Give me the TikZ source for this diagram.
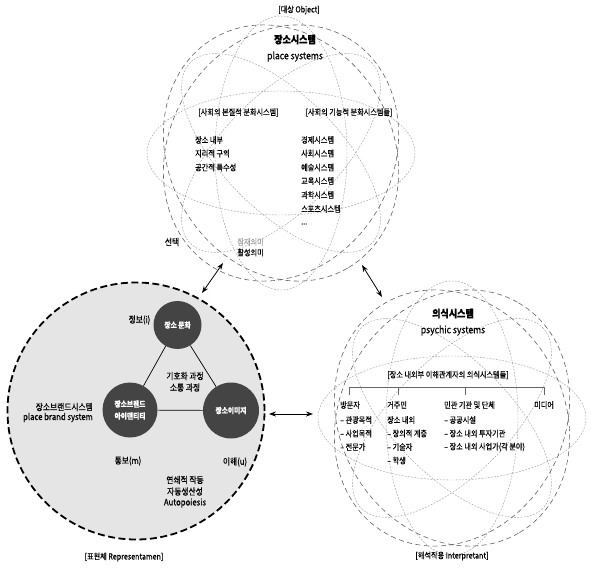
\documentclass[tikz,border=0pt]{standalone}
\usepackage{fontspec}
\setmainfont{Noto Sans CJK KR}[FakeStretch=0.86, FakeBold=0.5]
\usetikzlibrary{arrows.meta}
\definecolor{darkc}{RGB}{68,68,68}
\definecolor{semigray}{RGB}{165,165,165}
\newcommand{\atomsys}[2]{%
 \begin{scope}[shift={(#1,#2)}]
  \draw[lightell] (0,0) ellipse [x radius=134, y radius=62];
  \draw[lightell] (0,0) ellipse [x radius=66, y radius=137];
  \draw[lightell, rotate=45] (0,0) ellipse [x radius=128, y radius=58];
  \draw[lightell, rotate=-45] (0,0) ellipse [x radius=128, y radius=58];
  \draw[darkell, rotate=60] (0,0) ellipse [x radius=133, y radius=112];
  \draw[darkell, rotate=-60] (0,0) ellipse [x radius=133, y radius=112];
 \end{scope}}
\tikzset{
  lightell/.style={draw=black!38, dash pattern=on 1.8pt off 1.4pt, line width=0.45pt},
  darkell/.style={draw=black!62, dash pattern=on 5pt off 3.5pt, line width=0.6pt},
  lbl/.style={inner sep=0pt, font=\fontsize{8.3}{10}\selectfont},
  biglbl/.style={inner sep=0pt, font=\fontsize{9}{11}\selectfont},
  ttl/.style={inner sep=0pt, font=\bfseries\fontsize{10.5}{12}\selectfont},
  sttl/.style={inner sep=0pt, font=\fontsize{10}{12}\selectfont},
  repc/.style={circle, minimum size=257pt, fill=gray!20, draw=black, line width=1.8pt, dash pattern=on 7pt off 3.5pt, inner sep=0pt},
  dcirc/.style={circle, fill=darkc, text=white, inner sep=0pt, align=center, font=\bfseries\fontsize{7.8}{12}\selectfont},
  conn/.style={draw=black, line width=0.7pt},
  dbl/.style={{Stealth[length=7pt,width=5pt]}-{Stealth[length=7pt,width=5pt]}, line width=0.8pt, draw=black},
  brk/.style={draw=black!60, line width=0.5pt}
}
\begin{document}
\begin{tikzpicture}[x=1pt,y=-1pt]
\useasboundingbox (0,0) rectangle (591,569);
% systems
\atomsys{281}{153}
\atomsys{452}{418}
% representamen
\node[repc] (rep) at (136,411) {};
\node[dcirc, minimum size=48pt] (cul) at (177.5,325) {장소 문화};
\node[dcirc, minimum size=55pt] (bid) at (130,410) {장소브랜드\\아이덴티티};
\node[dcirc, minimum size=56pt] (img) at (231,410.5) {장소이미지};
\draw[conn] (cul) -- (bid);
\draw[conn] (cul) -- (img);
\draw[conn] (bid) -- (img);
\node[biglbl] (info) at (139.5,320) {정보(i)};
\node[biglbl] (code1) at (185,376) {기호화 과정};
\node[biglbl] (code2) at (185,387.5) {소통 과정};
\node[biglbl, anchor=east] (pbs1) at (93,407) {장소브랜드시스템};
\node[biglbl, anchor=east] (pbs2) at (93,417.5) {place brand system};
\node[biglbl] (msg) at (128,461) {통보(m)};
\node[biglbl] (und) at (235,462) {이해(u)};
\node[biglbl] (auto1) at (185,480) {연쇄적 작동};
\node[biglbl] (auto2) at (185,491.5) {자동생산성};
\node[biglbl] (auto3) at (185,503) {Autopoiesis};
\node[lbl] (reptitle) at (124,557) {[표현체 Representamen]};
% arrows
\coordinate (a1) at (202,293);
\coordinate (a2) at (223,263);
\coordinate (b1) at (269,414);
\coordinate (b2) at (313,414);
\coordinate (c1) at (362,265);
\coordinate (c2) at (382,297);
\draw[dbl] (a1) -- (a2);
\draw[dbl] (b1) -- (b2);
\draw[dbl] (c1) -- (c2);
% place systems
\node[lbl] (obj) at (299,10) {[대상 Object]};
\node[ttl] (ps1) at (295,39.5) {장소시스템};
\node[sttl] (ps2) at (295,56.5) {place systems};
\node[lbl] (seg) at (238.5,112.5) {[사회의 본질적 분화시스템]};
\node[lbl] (fun) at (349,112.5) {[사회의 기능적 분화시스템들]};
\node[lbl, anchor=west] (s1) at (195,140) {장소 내부};
\node[lbl, anchor=west] (s2) at (195,153.5) {지리적 구역};
\node[lbl, anchor=west] (s3) at (195,167.5) {공간적 특수성};
\node[lbl, anchor=west] (f1) at (301,140) {경제시스템};
\node[lbl, anchor=west] (f2) at (301,153.5) {사회시스템};
\node[lbl, anchor=west] (f3) at (301,167.5) {예술시스템};
\node[lbl, anchor=west] (f4) at (301,181) {교육시스템};
\node[lbl, anchor=west] (f5) at (301,195) {과학시스템};
\node[lbl, anchor=west] (f6) at (301,209) {스포츠시스템};
\node[lbl, anchor=west] (f7) at (301,224) {...};
\node[biglbl] (sel) at (172,242) {선택};
\node[lbl, text=semigray] (lat) at (250.5,242) {잠재의미};
\node[lbl] (act) at (250.5,252.5) {활성의미};
% psychic systems
\node[ttl] (ys1) at (453,313.5) {의식시스템};
\node[sttl] (ys2) at (453,330.5) {psychic systems};
\node[lbl] (stk) at (448,375) {[장소 내외부 이해관계자의 의식시스템들]};
\coordinate (t1) at (349,387);
\coordinate (t2) at (398,387);
\coordinate (t3) at (465,387);
\coordinate (t4) at (544,387);
\coordinate (t1b) at (349,394.5);
\coordinate (t2b) at (398,394.5);
\coordinate (t3b) at (465,394.5);
\coordinate (t4b) at (544,394.5);
\draw[brk] (t1b) -- (t1) -- (t4) -- (t4b);
\draw[brk] (t2) -- (t2b);
\draw[brk] (t3) -- (t3b);
\node[lbl, anchor=west] (v0) at (340,405) {방문자};
\node[lbl, anchor=west] (v1) at (340,420) {– 관광목적};
\node[lbl, anchor=west] (v2) at (340,433.5) {– 사업목적};
\node[lbl, anchor=west] (v3) at (340,447) {– 전문가};
\node[lbl, anchor=west] (r0) at (387,405) {거주민};
\node[lbl, anchor=west] (r1) at (387,420) {장소 내외};
\node[lbl, anchor=west] (r2) at (387,433.5) {– 창의적 계층};
\node[lbl, anchor=west] (r3) at (387,447) {– 기술자};
\node[lbl, anchor=west] (r4) at (387,460.5) {– 학생};
\node[lbl, anchor=west] (o0) at (444,405) {민관 기관 및 단체};
\node[lbl, anchor=west] (o1) at (444,420) {– 공공시설};
\node[lbl, anchor=west] (o2) at (444,433.5) {– 장소 내외 투자기관};
\node[lbl, anchor=west] (o3) at (444,447) {– 장소 내외 사업가(각 분야)};
\node[lbl, anchor=west] (m0) at (534,405) {미디어};
\node[lbl] (itp) at (452,556) {[해석작용 Interpretant]};
\end{tikzpicture}
\end{document}
